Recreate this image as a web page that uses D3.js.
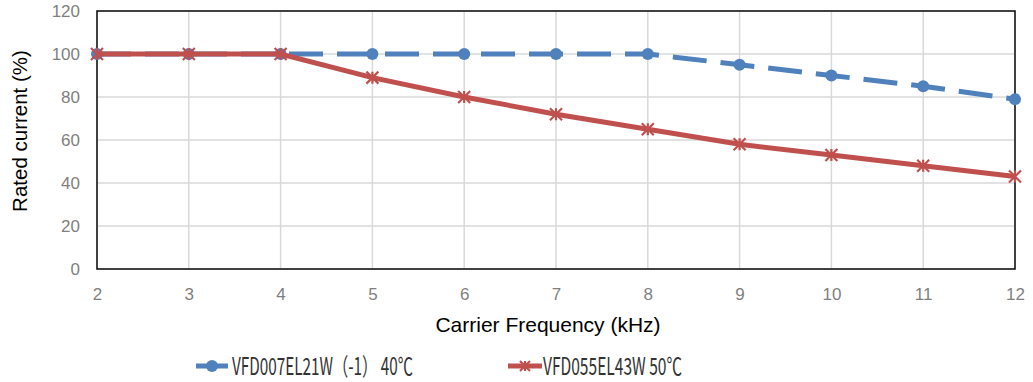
<!DOCTYPE html>
<html><head><meta charset="utf-8">
<script src="https://cdn.jsdelivr.net/npm/d3@7/dist/d3.min.js"></script>
<style>body{margin:0;background:#fff}svg{display:block}</style>
</head><body><svg id="c" width="1033" height="382"></svg>
<script>
const frequencies = [2,3,4,5,6,7,8,9,10,11,12];
const seriesA = [100,100,100,100,100,100,100,95,90,85,79];
const seriesB = [100,100,100,89,80,72,65,58,53,48,43];
const seriesNames = ["VFD007EL21W（-1） 40℃","VFD055EL43W 50℃"];
const yTicks = [0,20,40,60,80,100,120];
const xTitle = "Carrier Frequency (kHz)";
const yTitle = "Rated current (%)";

const svg = d3.select("#c");
const L=97,R=1015,T=11,B=269;
const x = d3.scaleLinear().domain([2,12]).range([L,R]);
const y = d3.scaleLinear().domain([0,120]).range([B,T]);
const blue="#4F81BD", red="#C0504D";
const sans="Liberation Sans, Arial, sans-serif";

// grid
svg.append("g").selectAll("line").data(frequencies).join("line")
  .attr("x1",d=>x(d)).attr("x2",d=>x(d)).attr("y1",T).attr("y2",B)
  .attr("stroke","#d9d9d9").attr("stroke-width",1.5);
svg.append("g").selectAll("line").data(yTicks).join("line")
  .attr("x1",L).attr("x2",R).attr("y1",d=>y(d)).attr("y2",d=>y(d))
  .attr("stroke","#d9d9d9").attr("stroke-width",1.5);

// axes
const ya = svg.append("g").attr("transform",`translate(${L},0)`)
  .call(d3.axisLeft(y).tickValues(yTicks).tickSize(0).tickPadding(17));
const xa = svg.append("g").attr("transform",`translate(0,${B})`)
  .call(d3.axisBottom(x).tickValues(frequencies).tickSize(0).tickPadding(19).tickFormat(d3.format("d")));
[ya,xa].forEach(g=>{g.select(".domain").remove();
  g.selectAll("text").attr("fill","#7f7f7f").attr("font-size",17).attr("font-family",sans);});

// frame
svg.append("rect").attr("x",L).attr("y",T).attr("width",R-L).attr("height",B-T)
  .attr("fill","none").attr("stroke","#1a1a1a").attr("stroke-width",1.6);

const line = d3.line().x((d,i)=>x(frequencies[i])).y(d=>y(d));

// series A (blue dashed, circles)
svg.append("path").datum(seriesA).attr("d",line).attr("fill","none")
  .attr("stroke",blue).attr("stroke-width",5).attr("stroke-dasharray","34,14");
svg.append("g").selectAll("circle").data(seriesA).join("circle")
  .attr("cx",(d,i)=>x(frequencies[i])).attr("cy",d=>y(d)).attr("r",6).attr("fill",blue);

// series B (red solid, asterisk)
svg.append("path").datum(seriesB).attr("d",line).attr("fill","none")
  .attr("stroke",red).attr("stroke-width",5);
function star(g,cx,cy,s){
  const p=`M${cx-s},${cy-s}L${cx+s},${cy+s}M${cx-s},${cy+s}L${cx+s},${cy-s}M${cx},${cy-s}L${cx},${cy+s}`;
  g.append("path").attr("d",p).attr("stroke",red).attr("stroke-width",2.2).attr("fill","none");
}
const sg = svg.append("g");
seriesB.forEach((d,i)=>star(sg,x(frequencies[i]),y(d),6));

// titles
svg.append("text").attr("x",548).attr("y",332).attr("text-anchor","middle")
  .attr("font-size",21).attr("font-family",sans).text(xTitle);
svg.append("text").attr("transform",`translate(27,131) rotate(-90)`).attr("text-anchor","middle")
  .attr("font-size",20.5).attr("font-family",sans).text(yTitle);

// legend
const lg = svg.append("g");
lg.append("line").attr("x1",196).attr("x2",228).attr("y1",366).attr("y2",366).attr("stroke",blue).attr("stroke-width",5);
lg.append("circle").attr("cx",212).attr("cy",366).attr("r",6).attr("fill",blue);
lg.append("text").attr("x",232).attr("y",375).attr("font-size",24)
  .attr("font-family","Noto Sans CJK SC, sans-serif").attr("fill","#333")
  .attr("textLength",181).attr("lengthAdjust","spacingAndGlyphs").text(seriesNames[0]);
lg.append("line").attr("x1",508).attr("x2",542).attr("y1",366).attr("y2",366).attr("stroke",red).attr("stroke-width",5);
star(lg,525,366,5);
lg.append("text").attr("x",543).attr("y",375).attr("font-size",24)
  .attr("font-family","Noto Sans CJK SC, sans-serif").attr("fill","#333")
  .attr("textLength",139).attr("lengthAdjust","spacingAndGlyphs").text(seriesNames[1]);
</script></body></html>
